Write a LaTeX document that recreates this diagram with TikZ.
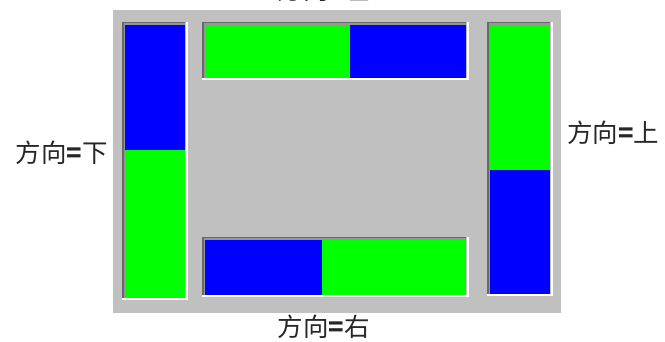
\documentclass[tikz,border=0pt]{standalone}
\usepackage{fontspec}
\newfontfamily\cjk{Noto Sans CJK SC}
\usetikzlibrary{positioning}
\definecolor{panelgray}{RGB}{192,192,192}
\definecolor{shadegray}{RGB}{105,105,105}
\definecolor{segblue}{RGB}{0,0,255}
\definecolor{seggreen}{RGB}{0,255,0}
% sunken frame round an inner area: x1,y1,x2,y2
\newcommand{\sunkenframe}[4]{%
  \fill[shadegray] (#1-3,#2-3) rectangle (#3,#4);
  \fill[shadegray!70] (#1-1.5,#2-1.5) rectangle (#3,#4);
  \draw[white, line width=2pt] (#1-3,#4+1.5) -- (#3+1.5,#4+1.5) -- (#3+1.5,#2-3);
}
\begin{document}
\begin{tikzpicture}[x=1pt, y=-1pt,
    seg/.style={inner sep=0pt, outer sep=0pt, anchor=north west},
    lbl/.style={inner sep=0pt, font=\cjk\fontsize{25.5}{28}\selectfont, text=black!85}
]
\useasboundingbox (0,0) rectangle (665,342);
\fill[panelgray] (113,10) rectangle (561,313);

% frames
\sunkenframe{125}{25}{185}{298}
\sunkenframe{205}{25}{466}{78}
\sunkenframe{490}{25}{550}{294}
\sunkenframe{205}{240}{466}{295}

% left bar
\node[seg, fill=segblue, minimum width=60pt, minimum height=125pt] (lefta) at (125,25) {};
\node[seg, fill=seggreen, minimum width=60pt, minimum height=148pt] (leftb) at (125,150) {};
% top bar
\node[seg, fill=seggreen, minimum width=145pt, minimum height=53pt] (topa) at (205,25) {};
\node[seg, fill=segblue, minimum width=116pt, minimum height=53pt] (topb) at (350,25) {};
% right bar
\node[seg, fill=seggreen, minimum width=60pt, minimum height=145pt] (righta) at (490,25) {};
\node[seg, fill=segblue, minimum width=60pt, minimum height=124pt] (rightb) at (490,170) {};
% bottom bar
\node[seg, fill=segblue, minimum width=117pt, minimum height=55pt] (bota) at (205,240) {};
\node[seg, fill=seggreen, minimum width=144pt, minimum height=55pt] (botb) at (322,240) {};

% labels
\node[lbl, anchor=east] (lblleft) at (108,153) {方向\textbf{=}下};
\node[lbl, anchor=west] (lblright) at (567,133) {方向\textbf{=}上};
\node[lbl] (lblbottom) at (324,327) {方向\textbf{=}右};
\node[lbl] (lbltop) at (324,-10.5) {方向\textbf{=}左};
\end{tikzpicture}
\end{document}
